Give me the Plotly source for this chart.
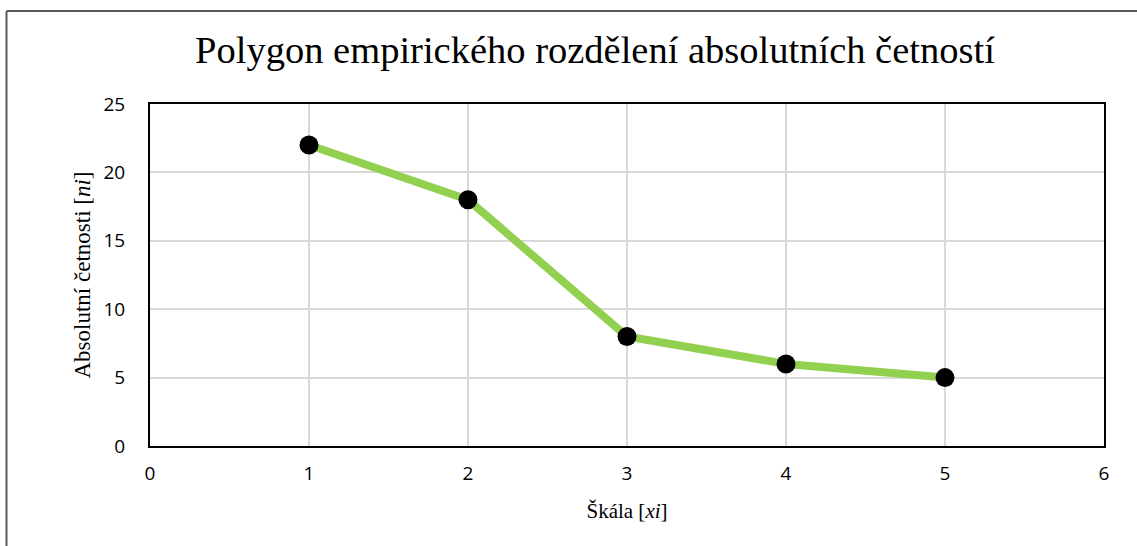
import plotly.graph_objects as go

x_vals = [1, 2, 3, 4, 5]
y_vals = [22, 18, 8, 6, 5]
x_ticks = [0, 1, 2, 3, 4, 5, 6]
y_ticks = [0, 5, 10, 15, 20, 25]

W, H = 1137, 546
L, R, T, B = 150, 33, 104, 100
pw, ph = W - L - R, H - T - B

def px(xp):
    return (xp - L) / pw

def py(yp):
    return (H - B - yp) / ph

fig = go.Figure()
fig.add_trace(go.Scatter(
    x=x_vals, y=y_vals, mode="lines+markers",
    line=dict(color="#92d050", width=8),
    marker=dict(color="black", size=19),
    showlegend=False,
))

fig.update_layout(
    width=W, height=H,
    margin=dict(l=L, r=R, t=T, b=B),
    paper_bgcolor="white", plot_bgcolor="white",
    title=dict(text="Polygon empirického rozdělení absolutních četností",
               font=dict(family="Liberation Serif", size=38.5, color="black"),
               x=595 / W, xanchor="center", y=1 - 50 / H, yanchor="middle",
               xref="container", yref="container"),
    xaxis=dict(range=[0, 6], tickvals=x_ticks, showgrid=True, gridcolor="#d9d9d9", gridwidth=2,
               showline=True, linecolor="black", linewidth=2, mirror=True, zeroline=False,
               ticks="", ticklabelstandoff=9,
               tickfont=dict(family="Open Sans", size=19, color="black"),
               title=dict(text="Škála [<i>xi</i>]", standoff=19,
                          font=dict(family="Liberation Serif", size=21, color="black"))),
    yaxis=dict(range=[0, 25], tickvals=y_ticks, showgrid=True, gridcolor="#d9d9d9", gridwidth=2,
               showline=True, linecolor="black", linewidth=2, mirror=True, zeroline=False,
               ticks="", ticklabelstandoff=19,
               tickfont=dict(family="Open Sans", size=19, color="black"),
               title=dict(text="Absolutní četnosti [<i>ni</i>]", standoff=6,
                          font=dict(family="Liberation Serif", size=23, color="black"))),
)

# outer chart frame (only top and left edges visible in the crop)
fig.add_shape(type="line", xref="paper", yref="paper",
              x0=px(6.5), x1=px(W + 20), y0=py(11), y1=py(11),
              line=dict(color="#595959", width=2))
fig.add_shape(type="line", xref="paper", yref="paper",
              x0=px(6.5), x1=px(6.5), y0=py(11), y1=py(H + 20),
              line=dict(color="#595959", width=2))

fig.write_html("out.html", config={"displayModeBar": False},
               post_script="document.body.style.margin='0';")
